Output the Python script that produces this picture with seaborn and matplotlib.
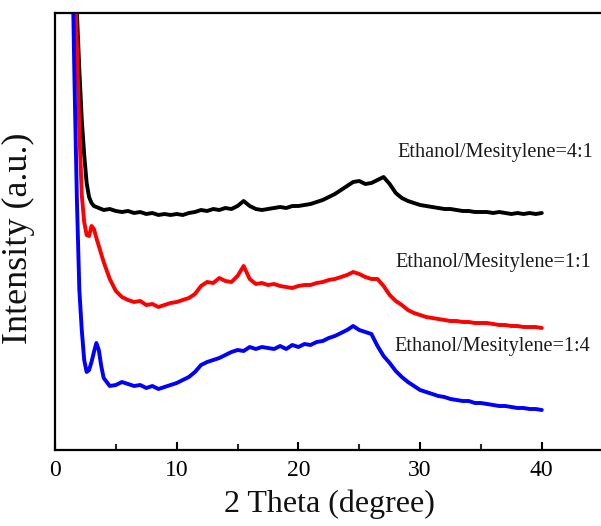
import numpy as np
import pandas as pd
import matplotlib
matplotlib.use("Agg")
import matplotlib.pyplot as plt
import seaborn as sns

# 2-theta sampling grid (degrees)
two_theta = [1.4, 1.6, 1.8, 2.0, 2.2, 2.4, 2.6, 2.8, 3.0, 3.2, 3.4, 3.6, 3.8, 4.0,
             4.5, 5.0, 5.5, 6.0, 6.5, 7.0, 7.5, 8.0, 8.5, 9.0, 9.5, 10.0,
             10.5, 11.0, 11.5, 12.0, 12.5, 13.0, 13.5, 14.0, 14.5, 15.0,
             15.5, 16.0, 16.5, 17.0, 17.5, 18.0, 18.5, 19.0, 19.5, 20.0,
             20.5, 21.0, 21.5, 22.0, 22.5, 23.0, 23.5, 24.0, 24.5, 25.0,
             25.5, 26.0, 26.5, 27.0, 27.5, 28.0, 28.5, 29.0, 29.5, 30.0,
             30.5, 31.0, 31.5, 32.0, 32.5, 33.0, 33.5, 34.0, 34.5, 35.0,
             35.5, 36.0, 36.5, 37.0, 37.5, 38.0, 38.5, 39.0, 39.5, 40.0]

# Intensities (a.u., vertically offset as in the figure)
int_4_1 = [530, 480, 437, 380, 330, 295, 267, 253, 247, 244, 243, 242, 241, 240,
           241, 239, 238, 239, 237, 238, 236, 237, 235, 236, 235, 236,
           235, 237, 238, 240, 239, 241, 240, 242, 241, 244,
           249, 244, 241, 240, 241, 242, 243, 242, 244, 244,
           245, 246, 248, 250, 253, 256, 260, 264, 268, 269,
           266, 267, 270, 273, 266, 257, 252, 249, 247, 245,
           244, 243, 242, 241, 241, 240, 239, 239, 238, 238,
           238, 237, 238, 237, 236, 237, 236, 237, 236, 237]

int_1_1 = [550, 480, 405, 320, 255, 228, 215, 214, 224, 221, 212, 204, 196, 188,
           171, 159, 153, 150, 148, 149, 145, 146, 143, 145, 147, 148,
           150, 152, 156, 164, 168, 167, 172, 169, 168, 174,
           184, 171, 166, 167, 165, 166, 164, 163, 162, 164,
           165, 165, 167, 168, 170, 171, 173, 175, 178, 176,
           173, 171, 171, 164, 155, 149, 145, 140, 137, 135,
           133, 132, 131, 130, 129, 129, 128, 128, 127, 127,
           127, 126, 125, 125, 124, 124, 123, 123, 123, 122]

int_1_4 = [510, 370, 250, 160, 120, 90, 78, 80, 88, 98, 107, 100, 84, 72,
           64, 65, 68, 66, 64, 65, 62, 64, 61, 63, 65, 67,
           70, 73, 78, 85, 88, 90, 92, 95, 98, 100,
           99, 103, 101, 103, 102, 101, 104, 101, 105, 103,
           106, 105, 108, 109, 112, 114, 117, 120, 124, 120,
           118, 116, 104, 94, 87, 79, 73, 68, 64, 60,
           58, 56, 54, 53, 51, 50, 49, 49, 47, 47,
           46, 45, 44, 44, 43, 42, 42, 41, 41, 40]

series_names = ["Ethanol/Mesitylene=4:1", "Ethanol/Mesitylene=1:1", "Ethanol/Mesitylene=1:4"]
series_colors = ["#000000", "#ff0000", "#0000ff"]
label_pos = [(28.1, 298), (28.0, 187), (27.9, 103)]

df = pd.concat([
    pd.DataFrame({"x": two_theta, "y": vals, "sample": name})
    for name, vals in zip(series_names, [int_4_1, int_1_1, int_1_4])
], ignore_index=True)

sns.set_theme(style="white")
plt.rcParams["font.family"] = ["Liberation Serif", "DejaVu Serif"]

fig = plt.figure(figsize=(6.01, 5.26), dpi=100)
ax = fig.add_axes([55/601, 76/526, 548/601, 437/526])

sns.lineplot(data=df, x="x", y="y", hue="sample", hue_order=series_names,
             palette=series_colors, linewidth=2.8, legend=False, ax=ax,
             estimator=None, sort=False)

ax.set_xlim(0, 45.03)
ax.set_ylim(0, 437)
ax.set_xticks([0, 10, 20, 30, 40])
ax.set_xticks([5, 15, 25, 35], minor=True)
ax.set_yticks([])
ax.tick_params(axis="x", which="major", direction="in", length=6, width=1.5,
               labelsize=17, pad=7, colors="black", bottom=True)
ax.tick_params(axis="x", which="minor", direction="in", length=4, width=1.5, bottom=True)
for s in ax.spines.values():
    s.set_color("black")
    s.set_linewidth(1.6)

ax.set_xlabel("2 Theta (degree)", fontsize=23, color="#111111")
ax.xaxis.set_label_coords(0.5, -0.09)
ax.set_ylabel("Intensity (a.u.)", fontsize=26, color="#111111")
ax.yaxis.set_label_coords(-0.037, 0.485)

for name, (tx, ty) in zip(series_names, label_pos):
    ax.text(tx, ty, name, fontsize=14.6, va="center", ha="left", color="#1a1a1a")

fig.savefig("out.png", dpi=100)
